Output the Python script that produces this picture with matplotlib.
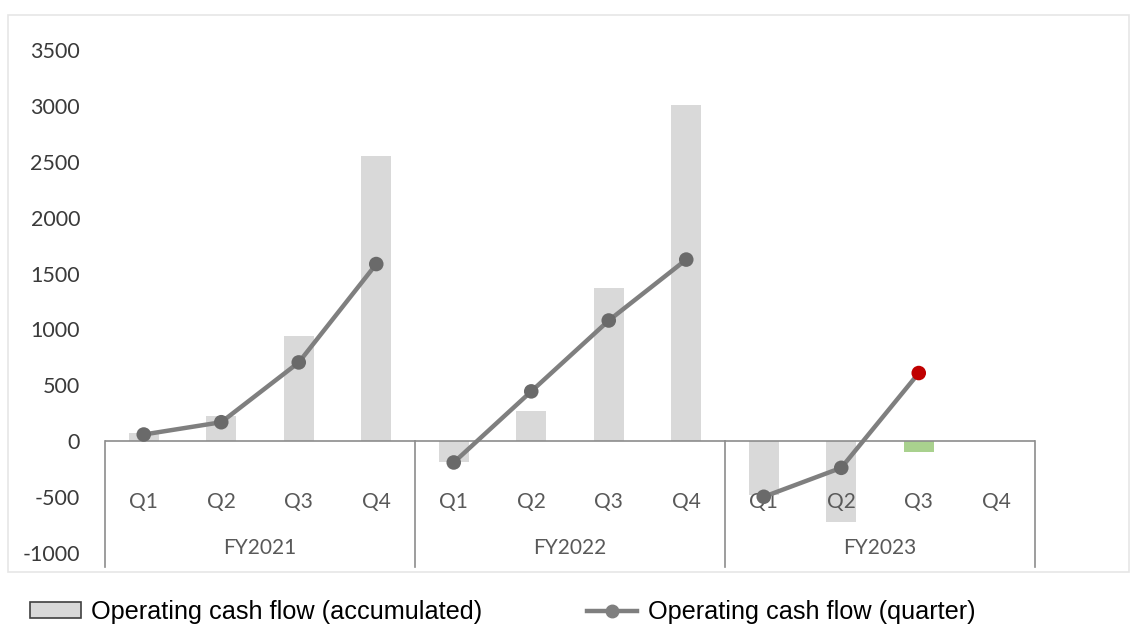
import matplotlib
matplotlib.use("Agg")
import matplotlib.pyplot as plt
import numpy as np
from matplotlib.patches import Rectangle, Patch
from matplotlib.lines import Line2D

years = ["FY2021", "FY2022", "FY2023"]
quarters = ["Q1", "Q2", "Q3", "Q4"]
accumulated = [70, 230, 940, 2550, -185, 270, 1375, 3010, -480, -725, -100, np.nan]
quarterly = [60, 170, 705, 1585, -190, 446, 1080, 1625, -497, -238, 610, np.nan]
highlight_index = 10  # FY2023 Q3 (latest)
y_ticks = [-1000, -500, 0, 500, 1000, 1500, 2000, 2500, 3000, 3500]

W, H = 1132, 630
fig = plt.figure(figsize=(W / 100, H / 100), dpi=100)
fig.patch.set_facecolor("white")

# axes placement in pixels
x0, x1 = 105, 1035
y_top, y_bot = 50, 553
ax = fig.add_axes([x0 / W, 1 - y_bot / H, (x1 - x0) / W, (y_bot - y_top) / H])

nq = len(quarters)
n = len(years) * nq
x = np.arange(n)
bar_colors = ["#d9d9d9"] * n
bar_colors[highlight_index] = "#a9d18e"
ax.bar(x, accumulated, width=0.39, color=bar_colors, zorder=2)

qv = np.array(quarterly, dtype=float)
# line is broken between fiscal years
for g in range(len(years)):
    sl = slice(g * nq, (g + 1) * nq)
    ax.plot(x[sl], qv[sl], color="#7f7f7f", lw=3.2, zorder=3, solid_capstyle="round")
mcol = ["#6a6a6a"] * n
mcol[highlight_index] = "#c00000"
ax.scatter(x, qv, s=110, c=mcol, zorder=4, edgecolors="none")

ax.set_xlim(-0.5, n - 0.5)
ax.set_ylim(y_ticks[0], y_ticks[-1])
ax.set_yticks(y_ticks)
ax.set_yticklabels([str(v) for v in y_ticks])
ax.tick_params(axis="y", length=0, pad=18, labelsize=15.5, labelcolor="#3a3a3a")
for lab in ax.get_yticklabels():
    lab.set_fontfamily("Lato")
ax.set_xticks([])
for s in ax.spines.values():
    s.set_visible(False)
ax.patch.set_alpha(0)

# category axis box
line_col = "#8c8c8c"
ax.axhline(0, color=line_col, lw=1.2, zorder=2.5)
trans = ax.get_xaxis_transform()
box_bottom = -(567 - y_bot) / (y_bot - y_top)
for g in range(len(years) + 1):
    xv = g * nq - 0.5
    ax.plot([xv, xv], [box_bottom, (y_bot - 441) / (y_bot - y_top)], transform=trans,
            color=line_col, lw=1.2, clip_on=False, zorder=1)

q_y = (y_bot - 502) / (y_bot - y_top)
fy_y = (y_bot - 548) / (y_bot - y_top)
for gi, yr in enumerate(years):
    for qi, q in enumerate(quarters):
        xi = gi * nq + qi
        ax.text(xi, q_y, q, transform=trans, ha="center", va="center",
                fontsize=15, color="#595959", family="Lato", zorder=2.6)
    ax.text(gi * nq + 1.5, fy_y, yr, transform=trans, ha="center", va="center",
            fontsize=15, color="#595959", family="Lato", zorder=2.6)

# chart border
fig.patches.append(Rectangle((8 / W, 1 - 572 / H), (1129 - 8) / W, (572 - 15) / H,
                             transform=fig.transFigure, fill=False,
                             edgecolor="#e6e6e6", lw=1.2))

# legend
handles = [
    Patch(facecolor="#d9d9d9", edgecolor="#404040", lw=1.2),
    Line2D([0], [0], color="#7f7f7f", lw=3.2, marker="o", markersize=9,
           markerfacecolor="#7f7f7f", markeredgecolor="#7f7f7f"),
]
labels = ["Operating cash flow (accumulated)", "Operating cash flow (quarter)"]
leg = fig.legend(handles, labels, loc="center left", bbox_to_anchor=(20 / W, 1 - 612 / H),
                 borderaxespad=0, ncol=2, frameon=False, columnspacing=4.15,
                 handlelength=2.0, handleheight=0.6, handletextpad=0.4,
                 prop={"family": "Liberation Sans", "size": 18.2})
for t in leg.get_texts():
    t.set_color("#000000")

fig.savefig("out.png", dpi=100)
